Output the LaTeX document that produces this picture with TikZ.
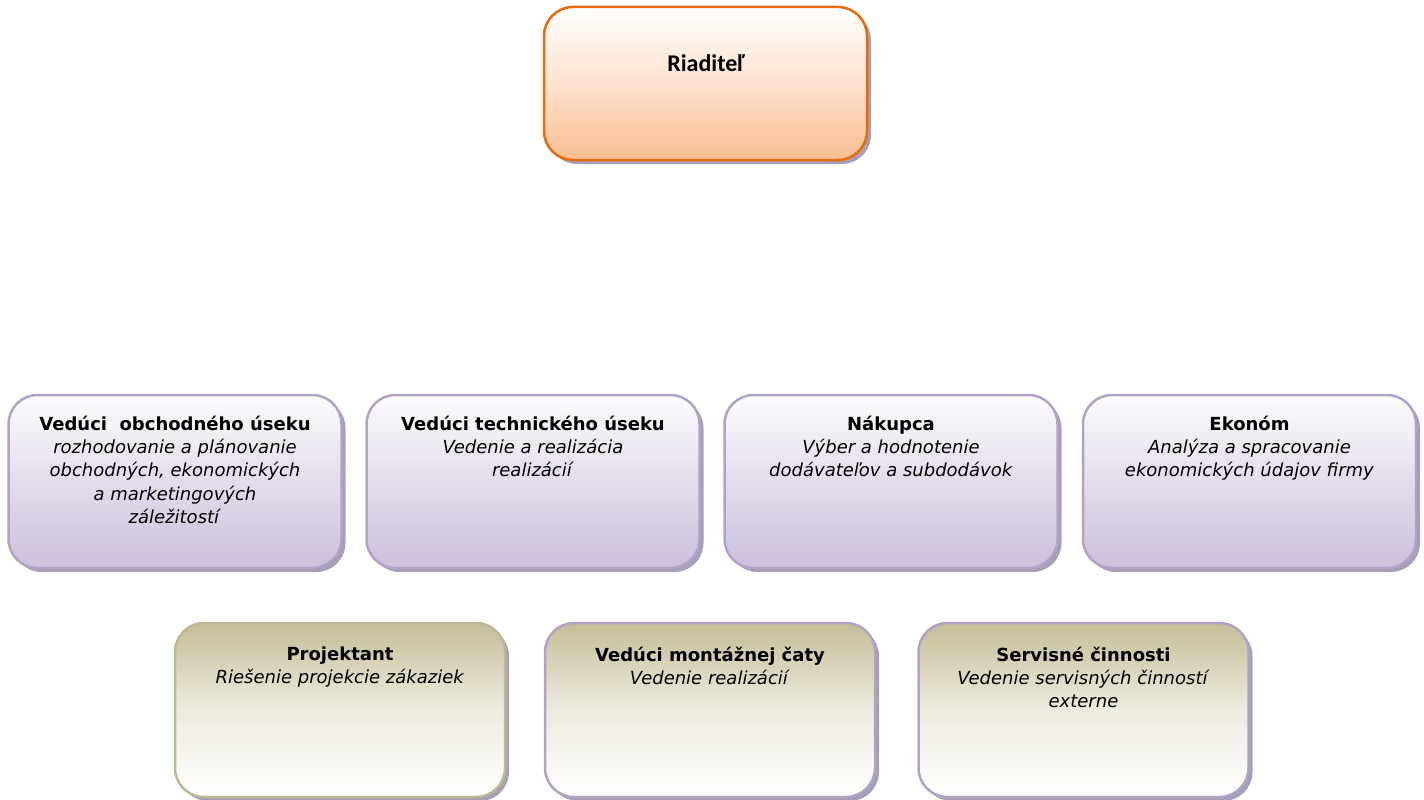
\documentclass[tikz,border=0pt]{standalone}
\usepackage{fontspec}
\setmainfont{DejaVu Sans}
\newfontfamily\headfont{Carlito}
\usetikzlibrary{shadows}

\definecolor{orangeline}{RGB}{228,108,10}
\definecolor{orangefill}{RGB}{248,190,145}
\definecolor{lilacline}{RGB}{179,162,199}
\definecolor{lilacfill}{RGB}{204,192,218}
\definecolor{olivefill}{RGB}{196,189,151}
\definecolor{oliveline}{RGB}{192,184,146}
\definecolor{shadowgray}{RGB}{150,142,168}

\tikzset{
    orgbox/.style={draw, rounded corners=29pt, line width=2.5pt,
        minimum width=333pt, minimum height=173pt,
        drop shadow={shadow xshift=4pt, shadow yshift=-4pt, fill=shadowgray, opacity=0.85}},
    topbox/.style={orgbox, draw=orangeline, line width=2.5pt,
        minimum width=323pt, minimum height=153pt,
        top color=white, bottom color=orangefill, middle color=orangefill!45!white},
    staffbox/.style={orgbox, draw=lilacline,
        top color=lilacfill!5!white, bottom color=lilacfill, middle color=lilacfill!55!white},
    teambox/.style={orgbox, draw=lilacline, minimum width=330pt, minimum height=174pt,
        top color=olivefill, bottom color=white, middle color=olivefill!30!white},
    boxtext/.style={anchor=north, align=center, inner sep=0pt,
        font=\fontsize{18}{23.3}\selectfont}
}

\begin{document}
\begin{tikzpicture}[x=1pt, y=-1pt]
    \useasboundingbox (0,0) rectangle (1424,800);

    % TOP: director
    \node[topbox] (riaditel) at (705.5, 83.5) {};
    \node[anchor=base, inner sep=0pt, font=\headfont\bfseries\fontsize{24}{28}\selectfont]
        (riaditel-text) at (706, 71) {Riaditeľ};

    % MIDDLE: heads of departments
    \node[staffbox] (obchod) at (175, 481.5) {};
    \node[boxtext] (obchod-text) at ([yshift=-22pt]obchod.north)
        {\textbf{Vedúci\ \ obchodného úseku}\\
         \textit{rozhodovanie a plánovanie}\\
         \textit{obchodných, ekonomických}\\
         \textit{a marketingových}\\
         \textit{záležitostí}};

    \node[staffbox] (technika) at (533, 481.5) {};
    \node[boxtext] (technika-text) at ([yshift=-22pt]technika.north)
        {\textbf{Vedúci technického úseku}\\
         \textit{Vedenie a realizácia}\\
         \textit{realizácií}};

    \node[staffbox] (nakupca) at (891, 481.5) {};
    \node[boxtext] (nakupca-text) at ([yshift=-22pt]nakupca.north)
        {\textbf{Nákupca}\\
         \textit{Výber a hodnotenie}\\
         \textit{dodávateľov a subdodávok}};

    \node[staffbox] (ekonom) at (1249.5, 481.5) {};
    \node[boxtext] (ekonom-text) at ([yshift=-22pt]ekonom.north)
        {\textbf{Ekonóm}\\
         \textit{Analýza a spracovanie}\\
         \textit{ekonomických údajov firmy}};

    % BOTTOM: technical staff
    \node[teambox, draw=oliveline] (projektant) at (340, 710) {};
    \node[boxtext] (projektant-text) at ([yshift=-25pt]projektant.north)
        {\textbf{Projektant}\\
         \textit{Riešenie projekcie zákaziek}};

    \node[teambox] (montaz) at (710, 710) {};
    \node[boxtext] (montaz-text) at ([yshift=-25pt]montaz.north)
        {\textbf{Vedúci montážnej čaty}\\
         \textit{Vedenie realizácií}};

    \node[teambox] (servis) at (1083.5, 710) {};
    \node[boxtext] (servis-text) at ([yshift=-25pt]servis.north)
        {\textbf{Servisné činnosti}\\
         \textit{Vedenie servisných činností}\\
         \textit{externe}};
\end{tikzpicture}
\end{document}
